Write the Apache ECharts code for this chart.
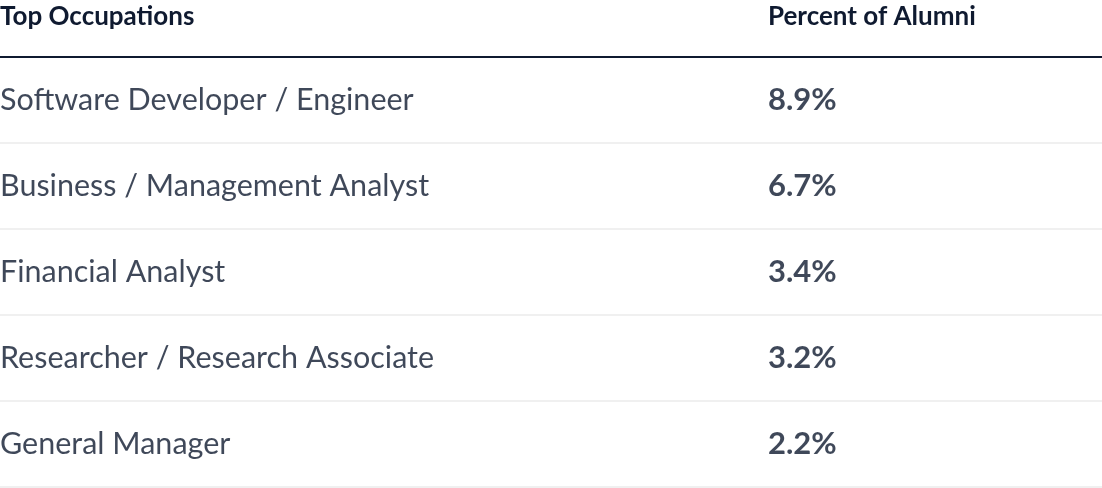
<!DOCTYPE html>
<html><head><meta charset="utf-8">
<script src="https://cdn.jsdelivr.net/npm/echarts@6/dist/echarts.min.js"></script>
<style>html,body{margin:0;padding:0;background:#fff}#c{width:1102px;height:488px}</style>
</head><body><div id="c"></div>
<script>
const occupations = ["Software Developer / Engineer","Business / Management Analyst","Financial Analyst","Researcher / Research Associate","General Manager"];
const percents = [8.9, 6.7, 3.4, 3.2, 2.2];
const headers = ["Top Occupations","Percent of Alumni"];
const ink = '#0f1a30';
const font = 'Lato';
const chart = echarts.init(document.getElementById('c'));
chart.setOption({
  animation:false,
  textStyle:{fontFamily:font},
  grid:{left:0,right:0,top:57,bottom:1},
  xAxis:{type:'value',min:0,max:1102,show:true,position:'top',
    axisLine:{show:true,onZero:false,lineStyle:{color:ink,width:2}},
    axisTick:{show:false},axisLabel:{show:false},splitLine:{show:false}},
  yAxis:{type:'category',inverse:true,data:occupations,
    axisLine:{show:false},axisTick:{show:false},axisLabel:{show:false},
    splitLine:{show:true,lineStyle:{color:'#ebebeb',width:1.5}}},
  graphic:[
    {type:'text',left:0,top:4,style:{text:headers[0],font:'bold 26px Lato',fill:ink}},
    {type:'text',left:768,top:4,style:{text:headers[1],font:'bold 26px Lato',fill:ink}}
  ],
  series:[
    {type:'scatter',symbolSize:0,silent:true,
     data:occupations.map(o=>[0,o]),
     label:{show:true,position:'right',distance:0,formatter:p=>p.value[1],
       fontSize:30.5,color:ink,fontFamily:font}},
    {type:'scatter',symbolSize:0,silent:true,
     data:percents.map((v,i)=>[768,occupations[i]]),
     label:{show:true,position:'right',distance:0,formatter:p=>percents[p.dataIndex].toFixed(1)+'%',
       fontSize:31,fontWeight:'bold',color:ink,fontFamily:font}}
  ]
});
</script></body></html>
